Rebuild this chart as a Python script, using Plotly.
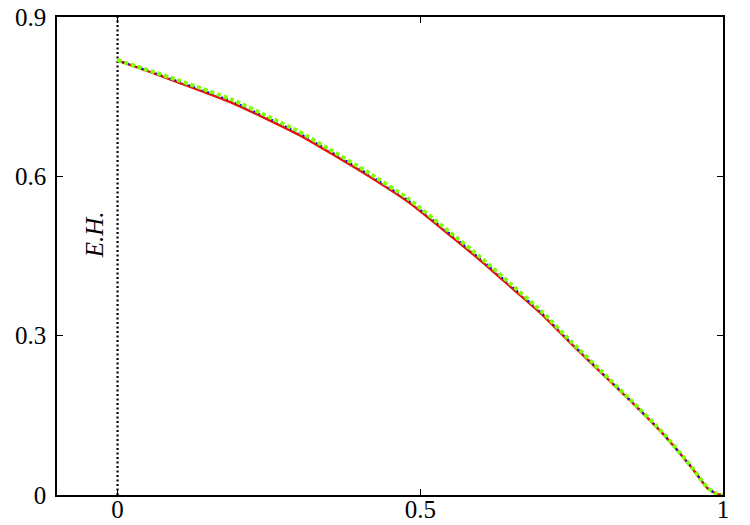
import plotly.graph_objects as go

# data
x_vals = [0.00, 0.05, 0.10, 0.19, 0.25, 0.30, 0.35, 0.41, 0.48, 0.55, 0.60,
          0.65, 0.70, 0.75, 0.80, 0.85, 0.90, 0.95, 0.975, 0.99, 1.00]
red_y = [0.818, 0.798, 0.777, 0.738, 0.706, 0.678, 0.645, 0.604, 0.552, 0.488, 0.441,
         0.391, 0.341, 0.284, 0.229, 0.174, 0.116, 0.049, 0.012, 0.002, 0.000]
blue_y = [0.818, 0.799, 0.779, 0.741, 0.709, 0.681, 0.648, 0.607, 0.555, 0.491, 0.444,
          0.394, 0.343, 0.286, 0.230, 0.175, 0.117, 0.050, 0.012, 0.002, 0.000]
green_y = [0.819, 0.800, 0.781, 0.744, 0.712, 0.684, 0.651, 0.610, 0.558, 0.494, 0.447,
           0.397, 0.346, 0.288, 0.232, 0.176, 0.118, 0.050, 0.013, 0.002, 0.000]

eh_x = [0, 0]
eh_y = [0, 0.9]
eh_label = "E.H."

x_ticks = [0, 0.5, 1]
x_ticklabels = ["0", "0.5", "1"]
y_ticks = [0, 0.3, 0.6, 0.9]
y_ticklabels = ["0", "0.3", "0.6", "0.9"]

FONT = "Liberation Serif"

fig = go.Figure()
fig.add_trace(go.Scatter(x=eh_x, y=eh_y, mode="lines",
                         line=dict(color="black", width=2.2, dash="2px,2.5px"),
                         showlegend=False, hoverinfo="skip"))
fig.add_trace(go.Scatter(x=x_vals, y=red_y, mode="lines",
                         line=dict(color="#e8120c", width=2.5, shape="spline", smoothing=0.5),
                         showlegend=False))
fig.add_trace(go.Scatter(x=x_vals, y=blue_y, mode="lines",
                         line=dict(color="#1010e0", width=2, dash="2px,3px", shape="spline", smoothing=0.5),
                         showlegend=False))
fig.add_trace(go.Scatter(x=x_vals, y=green_y, mode="lines",
                         line=dict(color="#7fff00", width=4, dash="4px,3px", shape="spline", smoothing=0.5),
                         showlegend=False))

fig.add_annotation(x=-0.038, y=0.49, xref="x", yref="y", text="<i>" + eh_label + "</i>",
                   showarrow=False, textangle=-90,
                   font=dict(family=FONT, size=25, color="black"))

axis_common = dict(showline=True, linecolor="black", linewidth=1.5, mirror="ticks",
                   ticks="inside", ticklen=6, tickwidth=1.2, tickcolor="black",
                   showgrid=False, zeroline=False, automargin=False,
                   tickfont=dict(family=FONT, size=25, color="black"))

fig.update_xaxes(range=[-0.1, 1.0], tickvals=x_ticks, ticktext=x_ticklabels,
                 ticklabelstandoff=-9, **axis_common)
fig.update_yaxes(range=[0, 0.9], tickvals=y_ticks, ticktext=y_ticklabels,
                 ticklabelstandoff=4, **axis_common)

fig.update_layout(width=750, height=525, margin=dict(l=57, r=27, t=17, b=30),
                  paper_bgcolor="white", plot_bgcolor="white",
                  font=dict(family=FONT))

fig.write_html("out.html", config={"displayModeBar": False},
               post_script="document.body.style.margin='0';")
